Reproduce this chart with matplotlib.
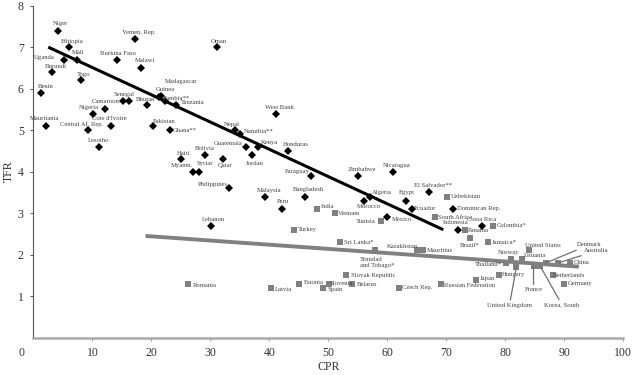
import matplotlib
matplotlib.use("Agg")
import matplotlib.pyplot as plt

# 发展中国家 (黑色菱形)
dev_names = ["Niger", "Ethiopia", "Uganda", "Mali", "Burundi", "Togo", "Benin",
             "Yemen, Rep.", "Burkina Faso", "Malawi", "Oman", "Madagascar", "Guinea",
             "Zambia**", "Tanzania", "Senegal", "Camaroon", "Bhutan", "Nigeria", "",
             "Mauritania", "Central Af. Rep.", "Cote d'Ivoire", "Lesotho", "Pakistan",
             "Ghana**", "Haiti", "Bolivia", "Myanm.", "Syriar", "Qatar", "Nepal",
             "Namibia**", "Guatemala", "Kenya", "Jordan", "Honduras", "West Bank",
             "Paraguay", "Zimbabwe", "Nicaragua", "Philippines", "Malaysia",
             "Bangladesh", "Peru", "Lebanon", "Algeria", "Morocco", "Egypt", "Ecuador",
             "Mexico", "El Salvador**", "Dominican Rep.", "Indonesia", "Costa Rica"]
dev_cpr = [4.1, 6.1, 5.1, 7.3, 3.2, 8.1, 1.2,
           17.2, 14.1, 18.2, 31.1, 21.7, 21.2,
           22.3, 24.2, 16.2, 15.2, 19.2, 10.1, 12.1,
           2.2, 9.2, 13.2, 11.1, 20.2,
           23.1, 25.1, 29.1, 27.1, 28.1, 32.1, 34.1,
           35.1, 36.1, 38.1, 37.1, 43.1, 41.2,
           47.1, 55.1, 61.0, 33.1, 39.2,
           46.1, 42.1, 30.1, 57.0, 56.0, 63.1, 64.2,
           60.0, 67.1, 71.1, 72.0, 76.0]
dev_tfr = [7.4, 7.0, 6.7, 6.7, 6.4, 6.2, 5.9,
           7.2, 6.7, 6.5, 7.0, 5.82, 5.8,
           5.7, 5.6, 5.7, 5.7, 5.6, 5.4, 5.5,
           5.1, 5.0, 5.1, 4.6, 5.1,
           5.0, 4.3, 4.4, 4.0, 4.0, 4.3, 5.0,
           4.9, 4.6, 4.6, 4.4, 4.5, 5.4,
           3.9, 3.9, 4.0, 3.6, 3.4,
           3.4, 3.1, 2.7, 3.4, 3.3, 3.3, 3.1,
           2.9, 3.5, 3.1, 2.6, 2.7]

# 其他国家 (灰色方块)
oth_names = ["India", "Vietnam", "Turkey", "Tunisia", "Sri Lanka*", "Trinidad\nand Tobago*",
             "Kazakhstan", "Mauritius", "Slovak Republic", "Latvia", "Estonia", "Slovenia",
             "Spain", "Belarus", "Czech Rep.", "Romania", "Uzbekistan", "South Africa",
             "Panama", "Colombia*", "Brazil*", "Jamaica*", "United States", "Norway",
             "Lituania", "Thailand*", "Hungary", "United Kingdom", "France", "Korea, South",
             "Denmark", "Australia", "China", "Netherlands", "Germany", "Japan",
             "Russian Federation"]
oth_cpr = [48.1, 51.1, 44.1, 59.0, 52.0, 58.0,
           65.0, 66.0, 53.0, 40.2, 45.1, 50.1,
           49.1, 54.0, 62.0, 26.2, 70.1, 68.1,
           73.1, 78.0, 74.0, 77.0, 84.0, 81.0,
           82.9, 80.2, 79.0, 81.9, 84.8, 85.9,
           86.9, 89.0, 91.0, 88.1, 90.0, 75.0,
           69.1]
oth_tfr = [3.1, 3.0, 2.6, 2.8, 2.3, 2.1,
           2.1, 2.1, 1.5, 1.2, 1.3, 1.3,
           1.2, 1.3, 1.2, 1.3, 3.4, 2.9,
           2.6, 2.7, 2.4, 2.3, 2.1, 1.9,
           1.9, 1.8, 1.5, 1.7, 1.73, 1.73,
           1.8, 1.8, 1.8, 1.5, 1.3, 1.4,
           1.3]

# 趋势线 (从图中读取的端点)
dev_trend_x = [2.5, 69.5]
dev_trend_y = [7.0, 2.6]
oth_trend_x = [19.0, 92.5]
oth_trend_y = [2.45, 1.71]

# 标签偏移 (像素, 相对于点, 文本中心)
dev_offsets = {
    "Niger": (3, 7), "Ethiopia": (3, 6), "Uganda": (-19, 2), "Mali": (2, 7),
    "Burundi": (3, 6), "Togo": (2, 6), "Benin": (5, 6), "Yemen, Rep.": (4, 6),
    "Burkina Faso": (1, 6), "Malawi": (4, 7), "Oman": (2, 6), "Madagascar": (20, 15),
    "Guinea": (7, 7), "Zambia**": (11, 3), "Tanzania": (17, 3), "Senegal": (-5, 7),
    "Camaroon": (-17, 0), "Bhutan": (-1, 6), "Nigeria": (-4, 6), "Mauritania": (-2, 7),
    "Central Af. Rep.": (-6, 6), "Cote d'Ivoire": (-2, 7), "Lesotho": (0, 6),
    "Pakistan": (12, 4), "Ghana**": (15, 0), "Haiti": (2, 6), "Bolivia": (0, 7),
    "Myanm.": (-11, 6), "Syriar": (6, 8), "Qatar": (2, -6), "Nepal": (-3, 6),
    "Namibia**": (18, 3), "Guatemala": (-18, 3), "Kenya": (11, 4), "Jordan": (2, -8),
    "Honduras": (8, 6), "West Bank": (3, 6), "Paraguay": (-14, 4), "Zimbabwe": (3, 6),
    "Nicaragua": (4, 6), "Philippines": (-16, 4), "Malaysia": (4, 6),
    "Bangladesh": (3, 7), "Peru": (1, 7), "Lebanon": (2, 6), "Algeria": (12, 4),
    "Morocco": (5, -6), "Egypt": (1, 8), "Ecuador": (13, 0), "Mexico": (15, -2),
    "El Salvador**": (4, 7), "Dominican Rep.": (26, 0), "Indonesia": (-2, 7),
    "Costa Rica": (0, 6),
}
oth_offsets = {
    "India": (10, 2), "Vietnam": (14, 0), "Turkey": (14, 0), "Tunisia": (-16, 0),
    "Sri Lanka*": (19, 0), "Trinidad\nand Tobago*": (2, -12), "Kazakhstan": (-14, 4),
    "Mauritius": (17, 0), "Slovak Republic": (27, 0), "Latvia": (13, -2),
    "Estonia": (14, 1), "Slovenia": (12, 0), "Spain": (12, -2), "Belarus": (15, -1),
    "Czech Rep.": (18, 0), "Romania": (17, -2), "Uzbekistan": (19, 0),
    "South Africa": (20, 0), "Panama": (14, -1), "Colombia*": (18, 0),
    "Brazil*": (0, -7), "Jamaica*": (17, 0), "United States": (14, 5),
    "Norway": (-2, 6), "Lituania": (13, 3), "Thailand*": (-18, -2), "Hungary": (14, 1),
    "United Kingdom": (-7, -38), "France": (0, -24), "Korea, South": (22, -39),
    "Denmark": (43, 18), "Australia": (38, 12), "China": (12, 0),
    "Netherlands": (16, 0), "Germany": (16, 0), "Japan": (12, 1),
    "Russian Federation": (29, -2),
}
leader = ["United Kingdom", "France", "Korea, South", "Denmark", "Australia"]

plt.rcParams['font.family'] = ['Liberation Serif', 'DejaVu Serif']

fig = plt.figure(figsize=(6.32, 3.75), dpi=100)
ax = fig.add_axes([0.053, 0.0997, 0.933, 0.8853])

ax.plot(oth_trend_x, oth_trend_y, color='#808080', lw=2.8, solid_capstyle='butt', zorder=1)
ax.plot(dev_trend_x, dev_trend_y, color='black', lw=2.2, solid_capstyle='butt', zorder=3)

ax.plot(dev_cpr, dev_tfr, 'D', color='black', ms=4.3, mew=0, zorder=4)
ax.plot(oth_cpr, oth_tfr, 's', color='#808080', ms=3.8, mew=0, zorder=2)

lab_color = '#404040'
for n, x, y in zip(dev_names, dev_cpr, dev_tfr):
    if not n:
        continue
    ax.annotate(n, (x, y), xytext=dev_offsets[n], textcoords='offset pixels',
                ha='center', va='center', fontsize=4.8, color=lab_color, zorder=5)
for n, x, y in zip(oth_names, oth_cpr, oth_tfr):
    kw = {}
    if n in leader:
        kw['arrowprops'] = dict(arrowstyle='-', color='#707070', lw=0.9,
                                shrinkA=0, shrinkB=0)
    ax.annotate(n, (x, y), xytext=oth_offsets[n], textcoords='offset pixels',
                ha='center', va='center', fontsize=4.8, color=lab_color,
                multialignment='left', zorder=5, **kw)

ax.set_xlim(0, 100)
ax.set_ylim(0, 8)
ax.set_xticks(range(10, 101, 10))
ax.set_yticks(range(1, 9))
ax.tick_params(axis='both', labelsize=8.5, colors='#333333', length=2, width=0.6, pad=5)
ax.tick_params(axis='x', colors='#888888', labelcolor='#333333')
ax.annotate('0', (0, 0), xytext=(-12, -15), textcoords='offset pixels',
            ha='center', va='center', fontsize=8.5, color='#333333', annotation_clip=False)

for s in ['top', 'right']:
    ax.spines[s].set_visible(False)
ax.spines['left'].set_color('#555555')
ax.spines['left'].set_linewidth(0.8)
ax.spines['bottom'].set_color('#aaaaaa')
ax.spines['bottom'].set_linewidth(1.8)

ax.set_xlabel('CPR', fontsize=8.5, color='#333333', labelpad=1)
ax.set_ylabel('TFR', fontsize=8.5, color='#333333', labelpad=2)

fig.savefig('out.png', dpi=100)
